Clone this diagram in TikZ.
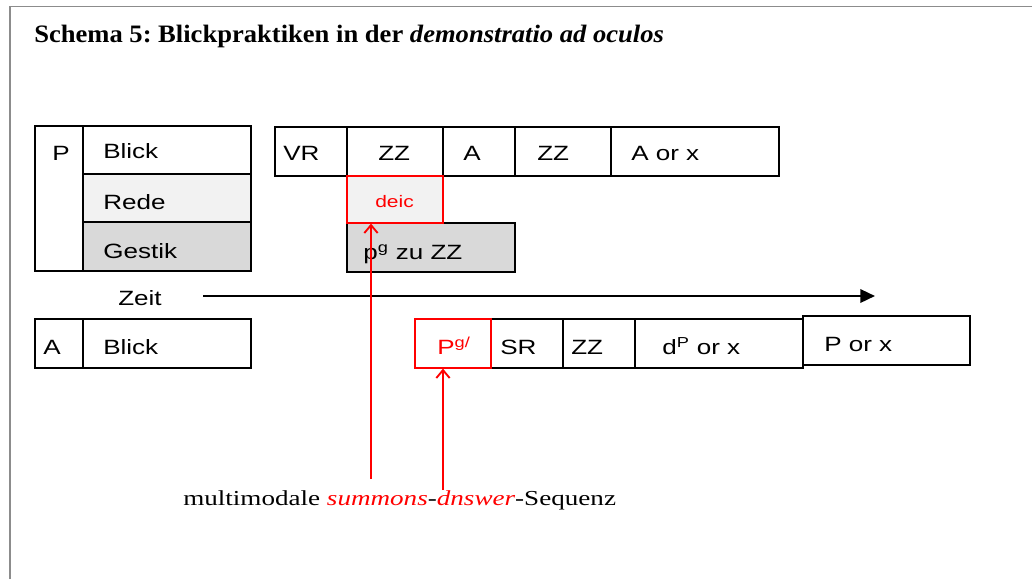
\documentclass[tikz,border=0pt]{standalone}
\usepackage{fontspec}
\setmainfont{Liberation Serif}
\newfontfamily\boxf[FakeStretch=1.26]{Liberation Sans}
\newfontfamily\capf[FakeStretch=1.27]{Liberation Serif}
\newfontfamily\titf[FakeStretch=1.06]{Liberation Serif}
\usetikzlibrary{fit,arrows.meta}
\definecolor{lightg}{HTML}{F2F2F2}
\definecolor{midg}{HTML}{D9D9D9}
\definecolor{framec}{HTML}{8C8C8C}
\frenchspacing
\tikzset{
  cell/.style={draw=black, line width=1.1pt, inner sep=0pt, fill=white},
  redcell/.style={draw=red, line width=0.9pt, inner sep=0pt},
  txt/.style={anchor=base west, inner sep=0pt, font=\boxf\fontsize{15.5}{18}\selectfont},
  redtxt/.style={txt, text=red},
  redarrow/.style={draw=red, line width=1.8pt, -{Straight Barb[length=6pt,width=10pt,line width=1.4pt]}}
}
\begin{document}
\begin{tikzpicture}[x=0.75pt,y=-0.75pt]
\useasboundingbox (0,0) rectangle (1032,579);
% frame
\draw[framec, line width=1.4pt] (10,579) -- (10,6.5) -- (1032,6.5);
% title
\node[anchor=base west, inner sep=0pt, font=\titf\fontsize{18.8}{21}\selectfont\bfseries] (title) at (34,42)
  {Schema 5: Blickpraktiken in der \textit{demonstratio ad oculos}};
% left P block
\node[cell, fit={(35,126) (83,271)}] (pcol) {};
\node[cell, fit={(83,126) (251,174)}] (blick) {};
\node[cell, fill=lightg, fit={(83,174) (251,222)}] (rede) {};
\node[cell, fill=midg, fit={(83,222) (251,271)}] (gestik) {};
\node[txt] (tp) at (52,160) {P};
\node[txt] (tblick) at (103,158) {Blick};
\node[txt] (trede) at (103,209) {Rede};
\node[txt] (tgestik) at (103,258) {Gestik};
% top row
\node[cell, fit={(275,127) (347,176)}] (vr) {};
\node[cell, fit={(347,127) (443,176)}] (zza) {};
\node[cell, fit={(443,127) (515,176)}] (aa) {};
\node[cell, fit={(515,127) (611,176)}] (zzb) {};
\node[cell, fit={(611,127) (779,176)}] (aorx) {};
\node[txt] (tvr) at (283,160) {VR};
\node[txt] (tzza) at (378,160) {ZZ};
\node[txt] (taa) at (463,160) {A};
\node[txt] (tzzb) at (537,160) {ZZ};
\node[txt] (taorx) at (631,160) {A or x};
% pg zu ZZ and deic
\node[cell, fill=midg, fit={(347,223) (515,272)}] (pg) {};
\node[redcell, fill=lightg, fit={(347,176) (443,223)}] (deic) {};
\node[redtxt, font=\boxf\fontsize{12.5}{15}\selectfont] (tdeic) at (375,207) {deic};
\node[txt] (tpg) at (363,259) {p\textsuperscript{g} zu ZZ};
% time axis
\node[txt] (zeit) at (118,305) {Zeit};
\coordinate (zs) at (203,296);
\coordinate (ze) at (875,296);
\draw[line width=1.8pt, -{Triangle[length=11pt,width=10pt]}] (zs) -- (ze);
% bottom row
\node[cell, fit={(35,319) (83,368)}] (acol) {};
\node[cell, fit={(83,319) (251,368)}] (blickb) {};
\node[txt] (ta) at (43,354) {A};
\node[txt] (tblickb) at (103,354) {Blick};
\node[cell, fit={(491,319) (563,368)}] (sr) {};
\node[cell, fit={(563,319) (635,368)}] (zzc) {};
\node[cell, fit={(635,319) (803,368)}] (dp) {};
\node[cell, fit={(803,316) (970,365)}] (porx) {};
\node[redcell, fit={(415,319) (491,368)}] (pgs) {};
\node[redtxt] (tpgs) at (437,354) {P\textsuperscript{g/}};
\node[txt] (tsr) at (500,354) {SR};
\node[txt] (tzzc) at (571,354) {ZZ};
\node[txt] (tdp) at (662,354) {d\textsuperscript{P} or x};
\node[txt] (tporx) at (824,351) {P or x};
% caption
\node[anchor=base west, inner sep=0pt, font=\capf\fontsize{16}{18}\selectfont] (cap) at (183,505)
  {multimodale \textcolor{red}{\textit{summons}}-\textcolor{red}{\textit{dnswer}}-Sequenz};
% red arrows
\coordinate (r1) at (371,479);
\coordinate (r2) at (443,490);
\draw[redarrow] (r1) -- (r1 |- deic.south);
\draw[redarrow] (r2) -- (r2 |- pgs.south);
\end{tikzpicture}
\end{document}
